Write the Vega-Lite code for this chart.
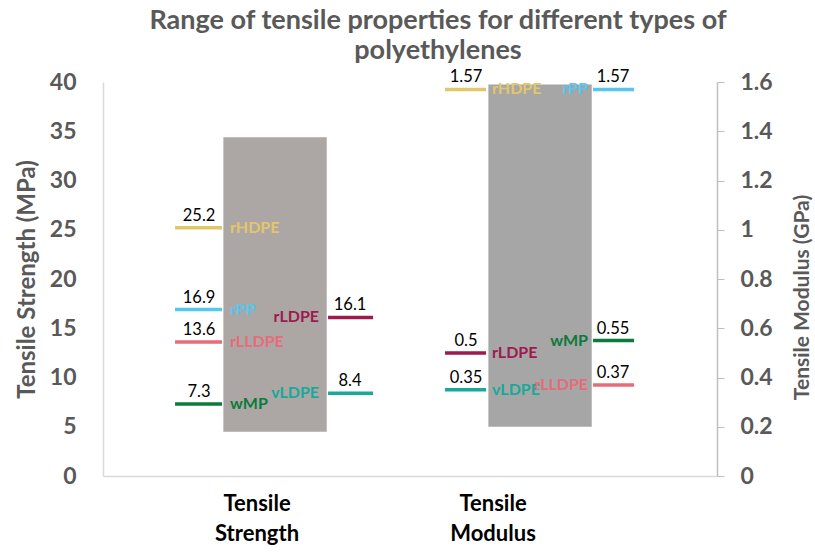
{
  "$schema": "https://vega.github.io/schema/vega-lite/v6.json",
  "width": 614,
  "height": 394,
  "autosize": {"type": "none"},
  "padding": {"left": 103, "top": 82, "right": 98, "bottom": 76},
  "background": "white",
  "config": {"font": "Lato", "view": {"stroke": null}, "axis": {"grid": false}},
  "title": {
    "text": ["Range of tensile properties for different types of", "polyethylenes"],
    "fontSize": 27,
    "fontWeight": "bold",
    "color": "#595959",
    "lineHeight": 30,
    "frame": "group",
    "anchor": "middle",
    "dx": 28,
    "offset": 4
  },
  "datasets": {
    "ranges": [
      {"property": "Tensile Strength", "low": 4.5, "high": 34.4},
      {"property": "Tensile Modulus", "low": 0.2, "high": 1.59}
    ],
    "markers": [
      {"property": "Tensile Strength", "material": "rHDPE", "value": 25.2, "side": "left"},
      {"property": "Tensile Strength", "material": "rPP", "value": 16.9, "side": "left"},
      {"property": "Tensile Strength", "material": "rLLDPE", "value": 13.6, "side": "left"},
      {"property": "Tensile Strength", "material": "wMP", "value": 7.3, "side": "left"},
      {"property": "Tensile Strength", "material": "rLDPE", "value": 16.1, "side": "right"},
      {"property": "Tensile Strength", "material": "vLDPE", "value": 8.4, "side": "right"},
      {"property": "Tensile Modulus", "material": "rHDPE", "value": 1.57, "side": "left"},
      {"property": "Tensile Modulus", "material": "rLDPE", "value": 0.5, "side": "left"},
      {"property": "Tensile Modulus", "material": "vLDPE", "value": 0.35, "side": "left"},
      {"property": "Tensile Modulus", "material": "rPP", "value": 1.57, "side": "right"},
      {"property": "Tensile Modulus", "material": "wMP", "value": 0.55, "side": "right"},
      {"property": "Tensile Modulus", "material": "rLLDPE", "value": 0.37, "side": "right"}
    ]
  },
  "layer": [
    {
      "layer": [
        {
          "data": {"name": "ranges"},
          "transform": [{"filter": "datum.property === 'Tensile Strength'"}],
          "mark": {"type": "bar", "color": "#aca7a5"},
          "encoding": {
            "x": {
              "field": "property",
              "type": "nominal",
              "sort": ["Tensile Strength", "Tensile Modulus"],
              "scale": {"domain": ["Tensile Strength", "Tensile Modulus"], "paddingInner": 0.61, "paddingOuter": 0.4635, "align": 0.49},
              "axis": {
                "title": null,
                "orient": "bottom",
                "ticks": false,
                "domainColor": "#d9d9d9",
                "domainWidth": 1.5,
                "labelAngle": 0,
                "labelFontSize": 22,
                "labelFontWeight": "bold",
                "labelColor": "#000000",
                "labelExpr": "split(datum.label, ' ')",
                "labelLineHeight": 30,
                "labelPadding": 17,
                "labelBaseline": "top",
                "labelOffset": {"condition": {"test": "datum.value === 'Tensile Strength'", "value": -18}, "value": -47}
              }
            },
            "y": {
              "field": "low",
              "type": "quantitative",
              "scale": {"domain": [0, 40], "nice": false},
              "axis": {
                "title": "Tensile Strength (MPa)",
                "orient": "left",
                "values": [0, 5, 10, 15, 20, 25, 30, 35, 40],
                "ticks": false,
                "domainColor": "#d9d9d9",
                "domainWidth": 1.5,
                "labelFontSize": 23,
                "labelFontWeight": "bold",
                "labelColor": "#595959",
                "labelPadding": 27,
                "titleFontSize": 24,
                "titleFontWeight": "bold",
                "titleColor": "#595959",
                "titlePadding": 10
              }
            },
            "y2": {"field": "high"}
          }
        },
        {
          "data": {"name": "markers"},
          "transform": [{"filter": "datum.property === 'Tensile Strength' && datum.side === 'left'"}],
          "layer": [
            {
              "mark": {"type": "rule", "strokeWidth": 3.5, "xOffset": -100, "x2Offset": -53},
              "encoding": {
                "x": {"field": "property", "type": "nominal"},
                "x2": {"field": "property"},
                "y": {"field": "value", "type": "quantitative"},
                "color": {
                  "field": "material",
                  "type": "nominal",
                  "scale": {
                    "domain": ["rHDPE", "rPP", "rLLDPE", "wMP", "rLDPE", "vLDPE"],
                    "range": ["#e2c66b", "#55c6ee", "#e86b7a", "#0b7a3b", "#9e1a4e", "#17a999"]
                  },
                  "legend": null
                }
              }
            },
            {
              "mark": {"type": "text", "dx": -76, "dy": -12, "fontSize": 16.5, "color": "#000000", "baseline": "middle", "align": "center"},
              "encoding": {
                "x": {"field": "property", "type": "nominal"},
                "y": {"field": "value", "type": "quantitative"},
                "text": {"field": "value", "type": "quantitative"}
              }
            },
            {
              "mark": {"type": "text", "dx": -45, "fontSize": 16, "fontWeight": "bold", "baseline": "middle", "align": "left"},
              "encoding": {
                "x": {"field": "property", "type": "nominal"},
                "y": {"field": "value", "type": "quantitative"},
                "text": {"field": "material", "type": "nominal"},
                "color": {"field": "material", "type": "nominal", "legend": null}
              }
            }
          ]
        },
        {
          "data": {"name": "markers"},
          "transform": [{"filter": "datum.property === 'Tensile Strength' && datum.side === 'right'"}],
          "layer": [
            {
              "mark": {"type": "rule", "strokeWidth": 3.5, "xOffset": 53, "x2Offset": 98},
              "encoding": {
                "x": {"field": "property", "type": "nominal"},
                "x2": {"field": "property"},
                "y": {"field": "value", "type": "quantitative"},
                "color": {"field": "material", "type": "nominal", "legend": null}
              }
            },
            {
              "mark": {"type": "text", "dx": 75, "dy": -12, "fontSize": 16.5, "color": "#000000", "baseline": "middle", "align": "center"},
              "encoding": {
                "x": {"field": "property", "type": "nominal"},
                "y": {"field": "value", "type": "quantitative"},
                "text": {"field": "value", "type": "quantitative"}
              }
            },
            {
              "mark": {"type": "text", "dx": 44, "fontSize": 16, "fontWeight": "bold", "baseline": "middle", "align": "right"},
              "encoding": {
                "x": {"field": "property", "type": "nominal"},
                "y": {"field": "value", "type": "quantitative"},
                "text": {"field": "material", "type": "nominal"},
                "color": {"field": "material", "type": "nominal", "legend": null}
              }
            }
          ]
        }
      ]
    },
    {
      "layer": [
        {
          "data": {"name": "ranges"},
          "transform": [{"filter": "datum.property === 'Tensile Modulus'"}],
          "mark": {"type": "bar", "color": "#a6a6a6"},
          "encoding": {
            "x": {"field": "property", "type": "nominal"},
            "y": {
              "field": "low",
              "type": "quantitative",
              "scale": {"domain": [0, 1.6], "nice": false},
              "axis": {
                "title": "Tensile Modulus (GPa)",
                "orient": "right",
                "values": [0, 0.2, 0.4, 0.6, 0.8, 1, 1.2, 1.4, 1.6],
                "format": "~g",
                "ticks": true,
                "tickSize": 7,
                "tickColor": "#bfbfbf",
                "domainColor": "#bfbfbf",
                "domainWidth": 1.5,
                "labelFontSize": 23,
                "labelFontWeight": "bold",
                "labelColor": "#595959",
                "labelPadding": 16,
                "titleFontSize": 21,
                "titleFontWeight": "bold",
                "titleColor": "#595959",
                "titleAngle": 270,
                "titleBaseline": "top",
                "titlePadding": 19,
                "titleY": 215
              }
            },
            "y2": {"field": "high"}
          }
        },
        {
          "data": {"name": "markers"},
          "transform": [{"filter": "datum.property === 'Tensile Modulus' && datum.side === 'left'"}],
          "layer": [
            {
              "mark": {"type": "rule", "strokeWidth": 3.5, "xOffset": -95, "x2Offset": -54},
              "encoding": {
                "x": {"field": "property", "type": "nominal"},
                "x2": {"field": "property"},
                "y": {"field": "value", "type": "quantitative"},
                "color": {"field": "material", "type": "nominal", "legend": null}
              }
            },
            {
              "mark": {"type": "text", "dx": -74, "dy": -12, "fontSize": 16.5, "color": "#000000", "baseline": "middle", "align": "center"},
              "encoding": {
                "x": {"field": "property", "type": "nominal"},
                "y": {"field": "value", "type": "quantitative"},
                "text": {"field": "value", "type": "quantitative"}
              }
            },
            {
              "mark": {"type": "text", "dx": -48, "fontSize": 16, "fontWeight": "bold", "baseline": "middle", "align": "left"},
              "encoding": {
                "x": {"field": "property", "type": "nominal"},
                "y": {"field": "value", "type": "quantitative"},
                "text": {"field": "material", "type": "nominal"},
                "color": {"field": "material", "type": "nominal", "legend": null}
              }
            }
          ]
        },
        {
          "data": {"name": "markers"},
          "transform": [{"filter": "datum.property === 'Tensile Modulus' && datum.side === 'right'"}],
          "layer": [
            {
              "mark": {"type": "rule", "strokeWidth": 3.5, "xOffset": 53, "x2Offset": 94},
              "encoding": {
                "x": {"field": "property", "type": "nominal"},
                "x2": {"field": "property"},
                "y": {"field": "value", "type": "quantitative"},
                "color": {"field": "material", "type": "nominal", "legend": null}
              }
            },
            {
              "mark": {"type": "text", "dx": 73, "dy": -12, "fontSize": 16.5, "color": "#000000", "baseline": "middle", "align": "center"},
              "encoding": {
                "x": {"field": "property", "type": "nominal"},
                "y": {"field": "value", "type": "quantitative"},
                "text": {"field": "value", "type": "quantitative"}
              }
            },
            {
              "mark": {"type": "text", "dx": 48, "fontSize": 16, "fontWeight": "bold", "baseline": "middle", "align": "right"},
              "encoding": {
                "x": {"field": "property", "type": "nominal"},
                "y": {"field": "value", "type": "quantitative"},
                "text": {"field": "material", "type": "nominal"},
                "color": {"field": "material", "type": "nominal", "legend": null}
              }
            }
          ]
        }
      ]
    }
  ],
  "resolve": {"scale": {"y": "independent"}, "axis": {"y": "independent"}}
}
